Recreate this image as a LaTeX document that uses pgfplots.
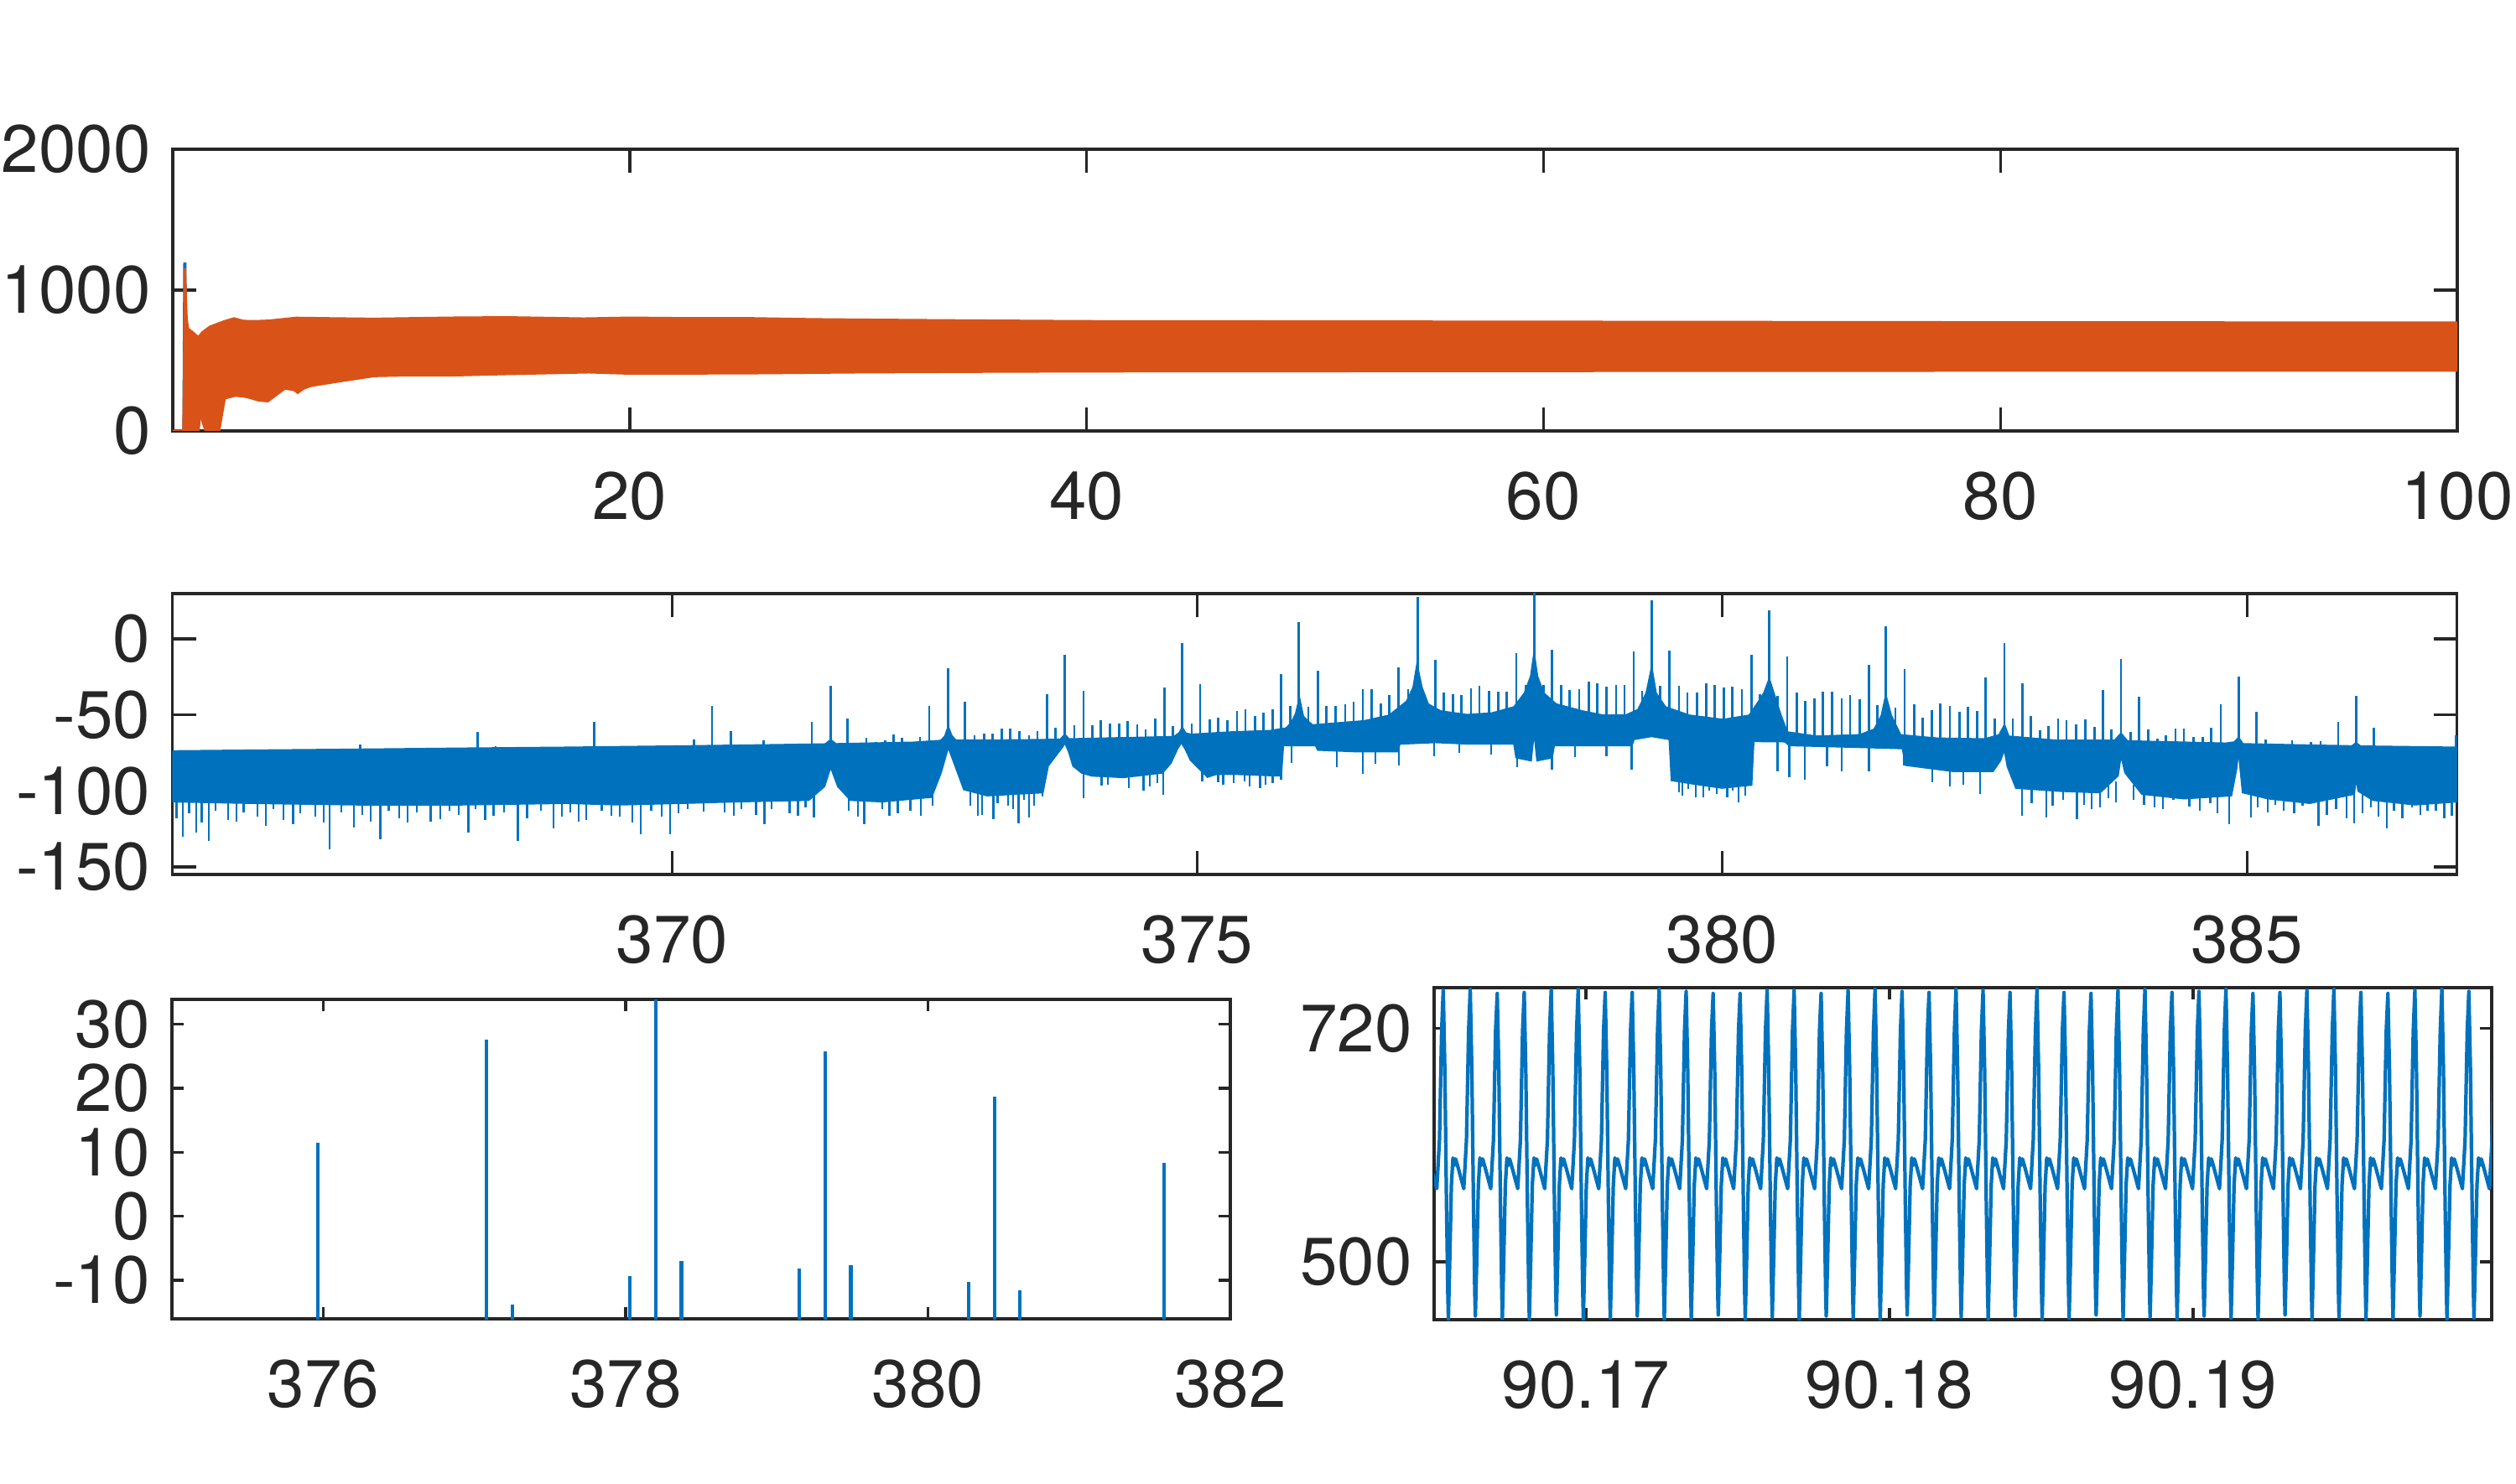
\documentclass[border=0pt]{standalone}
\usepackage{fontspec}
\setmainfont{TeX Gyre Heros}
\usepackage{pgfplots}
\pgfplotsset{compat=1.18}
\definecolor{matblue}{rgb}{0,0.447,0.741}
\definecolor{matorange}{rgb}{0.85,0.325,0.098}
\definecolor{axgray}{rgb}{0.15,0.15,0.15}
\pgfplotsset{
  mystyle/.style={
    scale only axis,
    anchor=south west,
    axis line style={axgray, line width=0.45pt},
    tick style={axgray, line width=0.45pt},
    tick align=inside,
    xtick pos=both, ytick pos=both,
    xticklabel pos=lower, yticklabel pos=left,
    tick label style={font=\fontsize{10.4}{12}\selectfont, text=axgray},
    xticklabel style={anchor=north, inner sep=0pt, yshift=-6.1pt},
    yticklabel style={anchor=east, inner sep=0pt, xshift=-3.2pt},
    minor tick num=0,
  }
}
\begin{document}
\begin{tikzpicture}
\path[use as bounding box] (0pt,0pt) rectangle (390pt,229.97pt);

% ---------------- top axis ----------------
\begin{axis}[mystyle, at={(26.78pt,163.15pt)}, width=354.12pt, height=43.68pt,
  xmin=0, xmax=100, ymin=0, ymax=2000,
  xtick={20,40,60,80,100}, xticklabels={20,40,60,80,100},
  ytick={0,1000,2000}, yticklabels={0,1000,2000},
  major tick length=3.64pt]
\addplot[matblue, line width=0.5pt] coordinates {(0.49,0) (0.53,1195) (0.57,0)};
\addplot[matorange, fill=matorange, line width=0.4pt] coordinates {
(0,0) (0.47,0) (0.50,400) (0.53,1155) (0.56,980) (0.60,800) (0.66,725) (0.72,718) (0.88,698) (1.12,663) (1.29,698) (1.62,738) (1.94,758) (2.27,778) (2.68,798) (3.09,780) (3.58,778) (4.23,782) (5.39,802) (7.2,798) (8.85,795) (10.0,798) (12.1,803) (14.6,806) (18.0,797) (20,803) (22,800) (25,800) (28,792) (30,789) (35,783) (40,778) (50,776) (60,774) (70,772) (80,770) (90,769) (100,768)
(100,430) (90,430) (80,429) (60,427) (40,424) (35,421) (30,417) (25,410) (20,408) (18.2,417) (14.6,405) (12.1,395) (9.98,395) (8.83,391) (7.2,351) (6.05,321) (5.72,302) (5.47,272) (5.31,292) (4.9,302) (4.57,262) (4.16,212) (3.75,218) (3.25,242) (2.76,252) (2.27,232) (2.15,120) (2.02,0) (1.45,0) (1.32,60) (1.22,150) (1.12,0) (0.56,0) (0,0)};
\end{axis}

% ---------------- middle axis ----------------
\begin{axis}[mystyle, at={(26.715pt,94.38pt)}, width=354.13pt, height=43.55pt,
  xmin=365.24, xmax=387.0, ymin=-155, ymax=29.8,
  xtick={370,375,380,385}, xticklabels={370,375,380,385},
  ytick={-150,-100,-50,0}, yticklabels={-150,-100,-50,0},
  major tick length=3.64pt]
% dense band
\addplot[matblue, fill=matblue, line width=0.3pt] coordinates {
(365.24,-73.9) (366.00,-73.4) (367.00,-72.8) (368.00,-72.1) (369.00,-71.5) (370.13,-70.6) (371.00,-69.8) (371.46,-69.3) (371.51,-66.5) (371.56,-69.2) (372.30,-68.2) (372.56,-67.0) (372.60,-64.0) (372.63,-58.0) (372.66,-63.5) (372.70,-66.8) (373.00,-66.8) (373.50,-66.5) (373.70,-66.2) (373.74,-63.0) (373.78,-66.0) (374.30,-65.2) (374.78,-64.5) (374.83,-62.0) (374.86,-58.5) (374.89,-62.0) (374.94,-63.0) (375.30,-61.5) (375.70,-60.5) (375.85,-58.8) (375.90,-55.0) (375.94,-49.5) (375.975,-39.4) (376.01,-51.0) (376.06,-54.5) (376.10,-56.8) (376.26,-55.9) (376.59,-54.1) (376.83,-50.4) (376.997,-41.2) (377.06,-32.0) (377.095,-17.3) (377.14,-32.0) (377.20,-43.0) (377.32,-47.6) (377.57,-50.0) (377.81,-48.9) (378.02,-44.9) (378.12,-35.7) (378.18,-24.6) (378.21,-9.9) (378.24,-24.6) (378.30,-35.7) (378.42,-43.0) (378.67,-47.6) (378.87,-50.4) (379.08,-50.4) (379.20,-46.7) (379.28,-35.7) (379.33,-19.1) (379.37,-35.7) (379.46,-44.9) (379.69,-50.4) (380.01,-53.2) (380.26,-50.4) (380.35,-41.2) (380.40,-35.7) (380.45,-26.5) (380.50,-37.5) (380.56,-50.4) (380.62,-61.4) (380.90,-64.2) (381.31,-63.3) (381.45,-59.6) (381.52,-50.4) (381.56,-37.5) (381.61,-50.4) (381.70,-63.3) (382.05,-65.5) (382.50,-66.0) (382.64,-63.3) (382.69,-56.8) (382.73,-64.2) (383.19,-66.9) (383.74,-66.9) (383.80,-62.3) (383.86,-67.3) (384.80,-68.8) (384.88,-68.0) (384.92,-65.1) (384.96,-69.2) (386.00,-70.6) (386.04,-68.5) (386.08,-70.7) (387.00,-71.5)
(387.00,-107) (386.60,-109) (386.20,-106) (386.06,-100) (386.04,-90) (386.02,-102) (385.60,-108) (385.20,-105) (384.96,-101) (384.93,-80) (384.92,-71) (384.90,-85) (384.85,-103) (384.40,-105) (384.00,-102) (383.84,-88) (383.80,-76) (383.77,-90) (383.60,-101) (383.20,-100) (382.80,-98) (382.72,-84) (382.69,-72.5) (382.65,-80) (382.58,-87) (382.20,-87) (381.75,-83) (381.72,-72) (381.20,-71) (380.64,-70) (380.60,-67.5) (380.30,-67.3) (380.28,-96) (380.00,-98) (379.70,-95) (379.52,-93) (379.50,-66) (379.33,-64) (379.16,-66) (379.14,-70) (378.80,-70) (378.40,-70) (378.38,-78) (378.24,-80) (378.21,-60) (378.18,-80) (378.04,-78) (378.02,-69) (377.60,-69) (377.27,-68) (376.93,-69) (376.91,-74) (376.50,-74) (376.15,-73) (376.13,-70) (375.98,-70) (375.82,-70) (375.80,-90) (375.40,-89) (375.18,-89) (375.10,-90.8) (375.02,-85.3) (374.94,-79.8) (374.89,-72.5) (374.85,-67.9) (374.81,-72.5) (374.75,-81.6) (374.67,-88) (374.30,-91) (374.00,-90) (373.90,-88) (373.82,-83.5) (373.78,-74.3) (373.74,-67.9) (373.72,-70.8) (373.66,-76.2) (373.58,-83.5) (373.53,-101) (373.00,-103) (372.78,-99) (372.70,-84) (372.63,-71) (372.56,-88) (372.47,-104) (372.00,-107) (371.70,-106) (371.58,-97) (371.51,-84) (371.45,-97) (371.30,-106) (370.60,-107) (370.10,-108) (369.50,-109) (369.00,-108) (368.00,-109) (367.00,-109) (366.00,-108) (365.24,-107) (365.24,-73.9)};
% downward needles
\addplot[matblue, line width=0.3pt, unbounded coords=jump] coordinates {
(365.28,-100)(365.28,-118)(365.28,nan) (365.34,-100)(365.34,-130.3)(365.34,nan) (365.40,-100)(365.40,-115)(365.40,nan) (365.47,-100)(365.47,-127.6)(365.47,nan) (365.52,-100)(365.52,-121)(365.52,nan) (365.59,-100)(365.59,-132.7)(365.59,nan) (365.65,-100)(365.65,-113)(365.65,nan) (365.77,-100)(365.77,-119)(365.77,nan) (365.85,-100)(365.85,-120.2)(365.85,nan) (365.92,-100)(365.92,-114)(365.92,nan) (366.05,-100)(366.05,-117)(366.05,nan) (366.13,-100)(366.13,-123)(366.13,nan) (366.20,-100)(366.20,-112)(366.20,nan) (366.30,-100)(366.30,-119)(366.30,nan) (366.39,-100)(366.39,-122)(366.39,nan) (366.46,-100)(366.46,-115)(366.46,nan) (366.60,-100)(366.60,-117)(366.60,nan) (366.68,-100)(366.68,-121)(366.68,nan) (366.74,-100)(366.74,-138.6)(366.74,nan) (366.85,-100)(366.85,-114)(366.85,nan) (366.97,-100)(366.97,-123.9)(366.97,nan) (367.05,-100)(367.05,-116)(367.05,nan) (367.13,-100)(367.13,-120)(367.13,nan) (367.22,-100)(367.22,-131.6)(367.22,nan) (367.30,-100)(367.30,-113)(367.30,nan) (367.40,-100)(367.40,-118)(367.40,nan) (367.48,-100)(367.48,-121)(367.48,nan) (367.57,-100)(367.57,-114)(367.57,nan) (367.70,-100)(367.70,-120)(367.70,nan) (367.79,-100)(367.79,-118.4)(367.79,nan) (367.88,-100)(367.88,-113)(367.88,nan) (367.97,-100)(367.97,-116)(367.97,nan) (368.06,-100)(368.06,-127.6)(368.06,nan) (368.13,-100)(368.13,-112)(368.13,nan) (368.22,-100)(368.22,-119)(368.22,nan) (368.30,-100)(368.30,-116.5)(368.30,nan) (368.40,-100)(368.40,-114)(368.40,nan) (368.53,-100)(368.53,-132.7)(368.53,nan) (368.62,-100)(368.62,-118)(368.62,nan) (368.75,-100)(368.75,-113)(368.75,nan) (368.87,-100)(368.87,-124.8)(368.87,nan) (368.95,-100)(368.95,-117)(368.95,nan) (369.03,-100)(369.03,-114)(369.03,nan) (369.11,-100)(369.11,-120.2)(369.11,nan) (369.18,-100)(369.18,-119)(369.18,nan) (369.33,-100)(369.33,-113)(369.33,nan) (369.42,-100)(369.42,-116.5)(369.42,nan) (369.50,-100)(369.50,-117)(369.50,nan) (369.62,-100)(369.62,-121)(369.62,nan) (369.70,-100)(369.70,-128.5)(369.70,nan) (369.80,-100)(369.80,-113)(369.80,nan) (369.90,-100)(369.90,-117)(369.90,nan) (369.98,-100)(369.98,-128.5)(369.98,nan) (370.06,-100)(370.06,-115)(370.06,nan) (370.15,-100)(370.15,-112)(370.15,nan) (370.30,-100)(370.30,-113.8)(370.30,nan) (370.50,-98)(370.50,-114)(370.50,nan) (370.59,-98)(370.59,-116.5)(370.59,nan) (370.66,-98)(370.66,-112)(370.66,nan) (370.80,-98)(370.80,-116)(370.80,nan) (370.88,-98)(370.88,-122)(370.88,nan) (370.95,-98)(370.95,-112)(370.95,nan) (371.12,-98)(371.12,-115)(371.12,nan) (371.20,-98)(371.20,-116.5)(371.20,nan) (371.27,-98)(371.27,-111)(371.27,nan) (371.35,-98)(371.35,-117.4)(371.35,nan) (371.68,-98)(371.68,-113)(371.68,nan) (371.77,-98)(371.77,-117)(371.77,nan) (371.83,-98)(371.83,-122)(371.83,nan) (372.00,-98)(372.00,-112)(372.00,nan) (372.07,-98)(372.07,-116.5)(372.07,nan) (372.15,-98)(372.15,-115)(372.15,nan) (372.27,-98)(372.27,-113)(372.27,nan) (372.37,-98)(372.37,-116.5)(372.37,nan) (372.48,-98)(372.48,-110)(372.48,nan) (372.84,-95)(372.84,-110)(372.84,nan) (372.91,-95)(372.91,-116.5)(372.91,nan) (372.95,-95)(372.95,-115.6)(372.95,nan) (373.06,-95)(373.06,-118.4)(373.06,nan) (373.10,-95)(373.10,-108)(373.10,nan) (373.20,-95)(373.20,-110)(373.20,nan) (373.25,-95)(373.25,-112)(373.25,nan) (373.30,-95)(373.30,-121.2)(373.30,nan) (373.35,-95)(373.35,-106)(373.35,nan) (373.40,-95)(373.40,-117.4)(373.40,nan) (373.45,-95)(373.45,-110)(373.45,nan) (373.53,-95)(373.53,-103.9)(373.53,nan)
(373.92,-86)(373.92,-104.6)(373.92,nan) (374.09,-86)(374.09,-96.3)(374.09,nan) (374.15,-86)(374.15,-96)(374.15,nan) (374.35,-86)(374.35,-98)(374.35,nan) (374.49,-86)(374.49,-100)(374.49,nan) (374.55,-86)(374.55,-97)(374.55,nan) (374.62,-86)(374.62,-95)(374.62,nan) (374.68,-86)(374.68,-102.8)(374.68,nan) (375.05,-86)(375.05,-94)(375.05,nan) (375.20,-86)(375.20,-94.5)(375.20,nan) (375.25,-86)(375.25,-96)(375.25,nan) (375.35,-86)(375.35,-95)(375.35,nan) (375.45,-86)(375.45,-94)(375.45,nan) (375.50,-86)(375.50,-97)(375.50,nan) (375.60,-86)(375.60,-98)(375.60,nan) (375.65,-86)(375.65,-96)(375.65,nan) (375.72,-86)(375.72,-95)(375.72,nan)
(375.80,-68)(375.80,-92.6)(375.80,nan) (375.90,-68)(375.90,-81.6)(375.90,nan) (376.33,-70)(376.33,-84.4)(376.33,nan) (376.58,-70)(376.58,-89)(376.58,nan) (376.70,-70)(376.70,-82)(376.70,nan) (376.92,-66)(376.92,-83.5)(376.92,nan) (377.26,-66)(377.26,-77.1)(377.26,nan) (377.50,-66)(377.50,-75)(377.50,nan) (377.80,-66)(377.80,-76)(377.80,nan) (378.05,-66)(378.05,-84.4)(378.05,nan) (378.38,-66)(378.38,-86.3)(378.38,nan) (378.60,-66)(378.60,-78)(378.60,nan) (378.90,-66)(378.90,-77)(378.90,nan) (379.14,-66)(379.14,-86.3)(379.14,nan)
(379.59,-88)(379.59,-100.8)(379.59,nan) (379.62,-88)(379.62,-103)(379.62,nan) (379.68,-88)(379.68,-99)(379.68,nan) (379.75,-88)(379.75,-104)(379.75,nan) (379.82,-88)(379.82,-104)(379.82,nan) (379.88,-88)(379.88,-100)(379.88,nan) (379.95,-88)(379.95,-102)(379.95,nan) (380.05,-88)(380.05,-104)(380.05,nan) (380.10,-88)(380.10,-100)(380.10,nan) (380.16,-88)(380.16,-107.4)(380.16,nan) (380.22,-88)(380.22,-103)(380.22,nan)
(380.53,-65)(380.53,-87.2)(380.53,nan) (380.64,-68)(380.64,-90.8)(380.64,nan) (380.79,-68)(380.79,-92.6)(380.79,nan) (381.00,-68)(381.00,-84)(381.00,nan) (381.14,-68)(381.14,-87.2)(381.14,nan) (381.40,-68)(381.40,-87.2)(381.40,nan) (381.73,-68)(381.73,-83.5)(381.73,nan) (382.00,-82)(382.00,-94.5)(382.00,nan) (382.17,-82)(382.17,-97.3)(382.17,nan) (382.30,-82)(382.30,-96)(382.30,nan) (382.46,-82)(382.46,-101.9)(382.46,nan)
(382.86,-94)(382.86,-116.5)(382.86,nan) (382.95,-94)(382.95,-108)(382.95,nan) (383.09,-94)(383.09,-117.4)(383.09,nan) (383.15,-94)(383.15,-110)(383.15,nan) (383.25,-94)(383.25,-106)(383.25,nan) (383.38,-94)(383.38,-118.4)(383.38,nan) (383.45,-94)(383.45,-109)(383.45,nan) (383.52,-94)(383.52,-112)(383.52,nan) (383.60,-94)(383.60,-111.1)(383.60,nan) (383.68,-94)(383.68,-105)(383.68,nan) (383.75,-94)(383.75,-107.4)(383.75,nan) (383.92,-96)(383.92,-106)(383.92,nan) (384.02,-96)(384.02,-109)(384.02,nan) (384.12,-96)(384.12,-111.1)(384.12,nan) (384.20,-96)(384.20,-112)(384.20,nan) (384.30,-96)(384.30,-106)(384.30,nan) (384.45,-96)(384.45,-110.2)(384.45,nan) (384.55,-96)(384.55,-113)(384.55,nan) (384.65,-96)(384.65,-108)(384.65,nan) (384.72,-96)(384.72,-115)(384.72,nan) (384.83,-96)(384.83,-122.1)(384.83,nan) (385.04,-98)(385.04,-117.4)(385.04,nan) (385.10,-98)(385.10,-111)(385.10,nan) (385.20,-98)(385.20,-114)(385.20,nan) (385.27,-98)(385.27,-109)(385.27,nan) (385.35,-98)(385.35,-112.9)(385.35,nan) (385.45,-98)(385.45,-115)(385.45,nan) (385.53,-98)(385.53,-110)(385.53,nan) (385.68,-98)(385.68,-123)(385.68,nan) (385.76,-98)(385.76,-116)(385.76,nan) (385.85,-98)(385.85,-112)(385.85,nan) (385.95,-98)(385.95,-118)(385.95,nan) (386.02,-98)(386.02,-121.2)(386.02,nan) (386.10,-98)(386.10,-115)(386.10,nan) (386.18,-98)(386.18,-111)(386.18,nan) (386.25,-98)(386.25,-117)(386.25,nan) (386.33,-98)(386.33,-124.8)(386.33,nan) (386.40,-98)(386.40,-113)(386.40,nan) (386.48,-98)(386.48,-118)(386.48,nan) (386.57,-98)(386.57,-111)(386.57,nan) (386.65,-98)(386.65,-116)(386.65,nan) (386.72,-98)(386.72,-112.9)(386.72,nan) (386.80,-98)(386.80,-113)(386.80,nan) (386.88,-98)(386.88,-118)(386.88,nan) (386.95,-98)(386.95,-116.5)(386.95,nan)};
% upward spikes
\addplot[matblue, line width=0.35pt, unbounded coords=jump] coordinates {
(367.03,-80)(367.03,-69.7)(367.03,nan) (368.15,-80)(368.15,-61.0)(368.15,nan) (368.32,-80)(368.32,-70.7)(368.32,nan) (369.26,-80)(369.26,-54.6)(369.26,nan)
(370.21,-76)(370.21,-66.2)(370.21,nan) (370.38,-76)(370.38,-44.3)(370.38,nan) (370.56,-76)(370.56,-60.8)(370.56,nan) (370.87,-76)(370.87,-67.0)(370.87,nan) (371.33,-76)(371.33,-54.6)(371.33,nan) (371.51,-76)(371.51,-31.1)(371.51,nan) (371.67,-76)(371.67,-52.2)(371.67,nan) (371.85,-76)(371.85,-65.1)(371.85,nan) (371.94,-76)(371.94,-67.9)(371.94,nan) (372.03,-76)(372.03,-67.0)(372.03,nan) (372.11,-76)(372.11,-62.9)(372.11,nan) (372.19,-76)(372.19,-65.1)(372.19,nan) (372.36,-76)(372.36,-64.7)(372.36,nan) (372.45,-76)(372.45,-43.9)(372.45,nan) (372.63,-70)(372.63,-19.1)(372.63,nan) (372.79,-76)(372.79,-41.2)(372.79,nan) (372.88,-76)(372.88,-63.2)(372.88,nan) (372.97,-76)(372.97,-62.3)(372.97,nan)
(373.05,-70)(373.05,-62.3)(373.05,nan) (373.14,-70)(373.14,-59.2)(373.14,nan) (373.22,-70)(373.22,-59.0)(373.22,nan) (373.31,-70)(373.31,-60.8)(373.31,nan) (373.40,-70)(373.40,-63.6)(373.40,nan) (373.48,-70)(373.48,-60.5)(373.48,nan) (373.57,-70)(373.57,-36.4)(373.57,nan) (373.65,-70)(373.65,-58.6)(373.65,nan) (373.74,-66)(373.74,-10.5)(373.74,nan) (373.83,-70)(373.83,-56.8)(373.83,nan) (373.92,-70)(373.92,-34.4)(373.92,nan) (374.00,-70)(374.00,-56.8)(374.00,nan) (374.08,-70)(374.08,-53.7)(374.08,nan) (374.17,-70)(374.17,-55.9)(374.17,nan) (374.26,-70)(374.26,-55.5)(374.26,nan) (374.34,-70)(374.34,-54.1)(374.34,nan) (374.43,-70)(374.43,-56.3)(374.43,nan) (374.51,-70)(374.51,-59.6)(374.51,nan) (374.60,-70)(374.60,-52.6)(374.60,nan) (374.69,-70)(374.69,-32.0)(374.69,nan) (374.77,-70)(374.77,-57.4)(374.77,nan) (374.86,-66)(374.86,-2.9)(374.86,nan) (374.95,-70)(374.95,-55.9)(374.95,nan) (375.03,-70)(375.03,-29.6)(375.03,nan) (375.12,-70)(375.12,-53.2)(375.12,nan) (375.20,-70)(375.20,-51.8)(375.20,nan) (375.29,-70)(375.29,-53.5)(375.29,nan) (375.38,-70)(375.38,-47.6)(375.38,nan) (375.46,-70)(375.46,-46.3)(375.46,nan) (375.55,-70)(375.55,-50.9)(375.55,nan) (375.63,-70)(375.63,-48.6)(375.63,nan) (375.72,-70)(375.72,-46.3)(375.72,nan)
(375.80,-64)(375.80,-23.2)(375.80,nan) (375.89,-64)(375.89,-44.3)(375.89,nan) (375.97,-64)(375.97,11.2)(375.97,nan) (376.06,-64)(376.06,-44.5)(376.06,nan) (376.15,-64)(376.15,-21.0)(376.15,nan) (376.23,-64)(376.23,-43.9)(376.23,nan) (376.32,-64)(376.32,-43.9)(376.32,nan) (376.41,-64)(376.41,-43.0)(376.41,nan) (376.49,-64)(376.49,-41.5)(376.49,nan) (376.58,-64)(376.58,-32.9)(376.58,nan) (376.66,-64)(376.66,-32.9)(376.66,nan) (376.75,-64)(376.75,-42.4)(376.75,nan) (376.83,-64)(376.83,-36.9)(376.83,nan) (376.92,-64)(376.92,-18.6)(376.92,nan) (377.01,-64)(377.01,-32.9)(377.01,nan) (377.10,-64)(377.10,27.4)(377.10,nan) (377.27,-64)(377.27,-14.0)(377.27,nan) (377.35,-64)(377.35,-35.1)(377.35,nan) (377.44,-64)(377.44,-36.4)(377.44,nan) (377.52,-64)(377.52,-37.1)(377.52,nan) (377.61,-64)(377.61,-32.4)(377.61,nan) (377.69,-64)(377.69,-30.7)(377.69,nan) (377.78,-64)(377.78,-34.2)(377.78,nan) (377.87,-64)(377.87,-34.7)(377.87,nan) (377.95,-64)(377.95,-34.7)(377.95,nan) (378.04,-64)(378.04,-9.6)(378.04,nan) (378.13,-64)(378.13,-30.2)(378.13,nan) (378.21,-64)(378.21,35)(378.21,nan) (378.30,-64)(378.30,-30.5)(378.30,nan) (378.38,-64)(378.38,-7.2)(378.38,nan) (378.47,-64)(378.47,-30.2)(378.47,nan) (378.55,-64)(378.55,-33.8)(378.55,nan) (378.64,-64)(378.64,-33.3)(378.64,nan) (378.73,-64)(378.73,-28.3)(378.73,nan) (378.81,-64)(378.81,-29.3)(378.81,nan) (378.90,-64)(378.90,-31.6)(378.90,nan) (378.99,-64)(378.99,-30.5)(378.99,nan) (379.07,-64)(379.07,-30.2)(379.07,nan) (379.16,-64)(379.16,-8.4)(379.16,nan) (379.24,-64)(379.24,-34.2)(379.24,nan) (379.33,-64)(379.33,25.6)(379.33,nan) (379.41,-64)(379.41,-31.1)(379.41,nan) (379.50,-64)(379.50,-7.7)(379.50,nan) (379.59,-64)(379.59,-31.1)(379.59,nan) (379.67,-64)(379.67,-35.1)(379.67,nan) (379.76,-64)(379.76,-35.3)(379.76,nan) (379.85,-64)(379.85,-29.4)(379.85,nan) (379.93,-64)(379.93,-30.2)(379.93,nan) (380.02,-64)(380.02,-32.0)(380.02,nan) (380.10,-64)(380.10,-31.6)(380.10,nan) (380.19,-64)(380.19,-32.9)(380.19,nan) (380.28,-64)(380.28,-10.3)(380.28,nan)
(380.36,-66)(380.36,-36.3)(380.36,nan) (380.45,-66)(380.45,18.6)(380.45,nan) (380.53,-66)(380.53,-37.5)(380.53,nan) (380.62,-66)(380.62,-11.8)(380.62,nan) (380.71,-66)(380.71,-35.1)(380.71,nan) (380.79,-66)(380.79,-40.8)(380.79,nan) (380.88,-66)(380.88,-39.4)(380.88,nan) (380.96,-66)(380.96,-34.7)(380.96,nan) (381.05,-66)(381.05,-34.7)(381.05,nan) (381.14,-66)(381.14,-39.4)(381.14,nan) (381.22,-66)(381.22,-36.9)(381.22,nan) (381.31,-66)(381.31,-39.7)(381.31,nan) (381.40,-66)(381.40,-16.9)(381.40,nan) (381.48,-66)(381.48,-43.6)(381.48,nan) (381.56,-66)(381.56,8.1)(381.56,nan) (381.65,-66)(381.65,-45.2)(381.65,nan) (381.74,-66)(381.74,-20.0)(381.74,nan)
(381.83,-69)(381.83,-43.0)(381.83,nan) (381.91,-69)(381.91,-51.8)(381.91,nan) (382.00,-69)(382.00,-47.0)(382.00,nan) (382.08,-69)(382.08,-42.6)(382.08,nan) (382.17,-69)(382.17,-43.9)(382.17,nan) (382.26,-69)(382.26,-48.1)(382.26,nan) (382.34,-69)(382.34,-44.9)(382.34,nan) (382.43,-69)(382.43,-47.6)(382.43,nan) (382.51,-69)(382.51,-25.2)(382.51,nan) (382.60,-69)(382.60,-52.2)(382.60,nan) (382.69,-69)(382.69,-2.5)(382.69,nan) (382.77,-69)(382.77,-52.2)(382.77,nan) (382.86,-69)(382.86,-29.2)(382.86,nan) (382.94,-69)(382.94,-50.9)(382.94,nan) (383.03,-69)(383.03,-59.9)(383.03,nan) (383.11,-69)(383.11,-57.4)(383.11,nan) (383.20,-69)(383.20,-52.2)(383.20,nan) (383.28,-69)(383.28,-53.7)(383.28,nan) (383.37,-69)(383.37,-56.3)(383.37,nan) (383.46,-69)(383.46,-53.2)(383.46,nan) (383.55,-69)(383.55,-57.7)(383.55,nan) (383.63,-69)(383.63,-33.8)(383.63,nan) (383.71,-69)(383.71,-59.6)(383.71,nan)
(383.80,-74)(383.80,-13.2)(383.80,nan) (383.89,-74)(383.89,-61.0)(383.89,nan) (383.97,-74)(383.97,-38.0)(383.97,nan) (384.06,-74)(384.06,-59.6)(384.06,nan) (384.15,-74)(384.15,-65.6)(384.15,nan) (384.23,-74)(384.23,-63.3)(384.23,nan) (384.32,-74)(384.32,-59.2)(384.32,nan) (384.40,-74)(384.40,-59.2)(384.40,nan) (384.49,-74)(384.49,-64.7)(384.49,nan) (384.58,-74)(384.58,-64.3)(384.58,nan) (384.66,-74)(384.66,-58.6)(384.66,nan) (384.75,-74)(384.75,-43.0)(384.75,nan) (384.92,-74)(384.92,-25.0)(384.92,nan) (385.09,-74)(385.09,-48.1)(385.09,nan) (385.18,-74)(385.18,-66.0)(385.18,nan) (385.43,-74)(385.43,-66.9)(385.43,nan) (385.61,-74)(385.61,-67.8)(385.61,nan) (385.70,-74)(385.70,-67.3)(385.70,nan) (385.87,-74)(385.87,-54.6)(385.87,nan) (386.04,-74)(386.04,-37.5)(386.04,nan) (386.21,-74)(386.21,-58.3)(386.21,nan) (386.99,-74)(386.99,-63.3)(386.99,nan)};
\end{axis}

% ---------------- bottom-left axis ----------------
\begin{axis}[mystyle, at={(26.65pt,25.48pt)}, width=164.06pt, height=49.53pt,
  xmin=375, xmax=382, ymin=-16.03, ymax=33.9,
  xtick={376,378,380,382}, xticklabels={376,378,380,382},
  ytick={-10,0,10,20,30}, yticklabels={-10,0,10,20,30},
  major tick length=1.85pt]
\addplot[matblue, line width=0.55pt, unbounded coords=jump] coordinates {
(375.965,-40)(375.965,11.44)(375.965,nan)
(377.08,-40)(377.08,27.6)(377.08,nan)
(377.25,-40)(377.25,-13.8)(377.25,nan)
(378.03,-40)(378.03,-9.39)(378.03,nan)
(378.20,-40)(378.20,36)(378.20,nan)
(378.37,-40)(378.37,-7.03)(378.37,nan)
(379.15,-40)(379.15,-8.2)(379.15,nan)
(379.32,-40)(379.32,25.8)(379.32,nan)
(379.49,-40)(379.49,-7.7)(379.49,nan)
(380.27,-40)(380.27,-10.3)(380.27,nan)
(380.44,-40)(380.44,18.7)(380.44,nan)
(380.61,-40)(380.61,-11.6)(380.61,nan)
(381.56,-40)(381.56,8.4)(381.56,nan)};
\end{axis}

% ---------------- bottom-right axis ----------------
\begin{axis}[mystyle, at={(222.3pt,25.35pt)}, width=163.93pt, height=51.48pt,
  xmin=0, xmax=34.84, ymin=445.5, ymax=758.5,
  xtick={5,15,25}, xticklabels={90.17,90.18,90.19},
  ytick={500,720}, yticklabels={500,720},
  major tick length=1.85pt]
\addplot[matblue, line width=0.55pt, line join=round] table {
x y
-0.180 597
-0.100 589
0.087 569
0.176 615
0.247 718
0.300 756
0.353 680
0.407 555
0.451 470
0.469 446
0.513 500
0.567 572
0.620 598
0.665 591
0.709 597
0.789 589
0.976 569
1.065 615
1.136 718
1.189 757
1.242 680
1.296 555
1.340 470
1.358 449
1.402 500
1.456 572
1.509 598
1.554 591
1.598 597
1.678 589
1.865 569
1.954 615
2.025 718
2.078 753
2.131 680
2.185 555
2.229 470
2.247 447
2.291 500
2.345 572
2.398 598
2.443 591
2.487 597
2.567 589
2.754 569
2.843 615
2.914 718
2.967 754
3.020 680
3.074 555
3.118 470
3.136 446
3.180 500
3.234 572
3.287 598
3.332 591
3.376 597
3.456 589
3.643 569
3.732 615
3.803 718
3.857 756
3.910 680
3.964 555
4.008 470
4.026 450
4.070 500
4.124 572
4.177 598
4.222 591
4.266 597
4.346 589
4.533 569
4.622 615
4.693 718
4.746 757
4.799 680
4.853 555
4.897 470
4.915 446
4.959 500
5.013 572
5.066 598
5.111 591
5.155 597
5.235 589
5.422 569
5.511 615
5.582 718
5.635 754
5.688 680
5.742 555
5.786 470
5.804 447
5.848 500
5.902 572
5.955 598
6.000 591
6.044 597
6.124 589
6.311 569
6.400 615
6.471 718
6.524 754
6.577 680
6.631 555
6.675 470
6.693 449
6.737 500
6.791 572
6.844 598
6.889 591
6.933 597
7.013 589
7.200 569
7.289 615
7.360 718
7.413 757
7.466 680
7.520 555
7.564 470
7.582 446
7.626 500
7.680 572
7.733 598
7.778 591
7.822 597
7.902 589
8.089 569
8.178 615
8.249 718
8.302 755
8.355 680
8.409 555
8.453 470
8.471 447
8.515 500
8.569 572
8.622 598
8.667 591
8.711 597
8.791 589
8.978 569
9.067 615
9.138 718
9.191 753
9.244 680
9.298 555
9.342 470
9.360 450
9.404 500
9.458 572
9.511 598
9.556 591
9.600 597
9.680 589
9.867 569
9.956 615
10.027 718
10.080 753
10.133 680
10.187 555
10.231 470
10.249 446
10.293 500
10.347 572
10.400 598
10.445 591
10.489 597
10.569 589
10.756 569
10.845 615
10.916 718
10.970 756
11.023 680
11.077 555
11.121 470
11.139 448
11.183 500
11.237 572
11.290 598
11.335 591
11.379 597
11.459 589
11.646 569
11.735 615
11.806 718
11.859 756
11.912 680
11.966 555
12.010 470
12.028 446
12.072 500
12.126 572
12.179 598
12.224 591
12.268 597
12.348 589
12.535 569
12.624 615
12.695 718
12.748 753
12.801 680
12.855 555
12.899 470
12.917 449
12.961 500
13.015 572
13.068 598
13.113 591
13.157 597
13.237 589
13.424 569
13.513 615
13.584 718
13.637 756
13.690 680
13.744 555
13.788 470
13.806 447
13.850 500
13.904 572
13.957 598
14.002 591
14.046 597
14.126 589
14.313 569
14.402 615
14.473 718
14.526 757
14.579 680
14.633 555
14.677 470
14.695 446
14.739 500
14.793 572
14.846 598
14.891 591
14.935 597
15.015 589
15.202 569
15.291 615
15.362 718
15.415 755
15.468 680
15.522 555
15.566 470
15.584 450
15.628 500
15.682 572
15.735 598
15.780 591
15.824 597
15.904 589
16.091 569
16.180 615
16.251 718
16.304 754
16.357 680
16.411 555
16.455 470
16.473 446
16.517 500
16.571 572
16.624 598
16.669 591
16.713 597
16.793 589
16.980 569
17.069 615
17.140 718
17.193 757
17.246 680
17.300 555
17.344 470
17.362 448
17.406 500
17.460 572
17.513 598
17.558 591
17.602 597
17.682 589
17.869 569
17.958 615
18.029 718
18.083 756
18.136 680
18.190 555
18.234 470
18.252 446
18.296 500
18.350 572
18.403 598
18.448 591
18.492 597
18.572 589
18.759 569
18.848 615
18.919 718
18.972 754
19.025 680
19.079 555
19.123 470
19.141 449
19.185 500
19.239 572
19.292 598
19.337 591
19.381 597
19.461 589
19.648 569
19.737 615
19.808 718
19.861 757
19.914 680
19.968 555
20.012 470
20.030 446
20.074 500
20.128 572
20.181 598
20.226 591
20.270 597
20.350 589
20.537 569
20.626 615
20.697 718
20.750 754
20.803 680
20.857 555
20.901 470
20.919 447
20.963 500
21.017 572
21.070 598
21.115 591
21.159 597
21.239 589
21.426 569
21.515 615
21.586 718
21.639 753
21.692 680
21.746 555
21.790 470
21.808 450
21.852 500
21.906 572
21.959 598
22.004 591
22.048 597
22.128 589
22.315 569
22.404 615
22.475 718
22.528 756
22.581 680
22.635 555
22.679 470
22.697 446
22.741 500
22.795 572
22.848 598
22.893 591
22.937 597
23.017 589
23.204 569
23.293 615
23.364 718
23.417 757
23.470 680
23.524 555
23.568 470
23.586 448
23.630 500
23.684 572
23.737 598
23.782 591
23.826 597
23.906 589
24.093 569
24.182 615
24.253 718
24.307 754
24.360 680
24.414 555
24.458 470
24.476 446
24.520 500
24.574 572
24.627 598
24.672 591
24.716 597
24.796 589
24.983 569
25.072 615
25.143 718
25.196 755
25.249 680
25.303 555
25.347 470
25.365 449
25.409 500
25.463 572
25.516 598
25.561 591
25.605 597
25.685 589
25.872 569
25.961 615
26.032 718
26.085 757
26.138 680
26.192 555
26.236 470
26.254 447
26.298 500
26.352 572
26.405 598
26.450 591
26.494 597
26.574 589
26.761 569
26.850 615
26.921 718
26.974 753
27.027 680
27.081 555
27.125 470
27.143 446
27.187 500
27.241 572
27.294 598
27.339 591
27.383 597
27.463 589
27.650 569
27.739 615
27.810 718
27.863 754
27.916 680
27.970 555
28.014 470
28.032 450
28.076 500
28.130 572
28.183 598
28.228 591
28.272 597
28.352 589
28.539 569
28.628 615
28.699 718
28.752 756
28.805 680
28.859 555
28.903 470
28.921 446
28.965 500
29.019 572
29.072 598
29.117 591
29.161 597
29.241 589
29.428 569
29.517 615
29.588 718
29.641 757
29.694 680
29.748 555
29.792 470
29.810 448
29.854 500
29.908 572
29.961 598
30.006 591
30.050 597
30.130 589
30.317 569
30.406 615
30.477 718
30.530 754
30.583 680
30.637 555
30.681 470
30.699 446
30.743 500
30.797 572
30.850 598
30.895 591
30.939 597
31.019 589
31.206 569
31.295 615
31.366 718
31.420 753
31.473 680
31.527 555
31.571 470
31.589 447
31.633 500
31.687 572
31.740 598
31.785 591
31.829 597
31.909 589
32.096 569
32.185 615
32.256 718
32.309 756
32.362 680
32.416 555
32.460 470
32.478 449
32.522 500
32.576 572
32.629 598
32.674 591
32.718 597
32.798 589
32.985 569
33.074 615
33.145 718
33.198 757
33.251 680
33.305 555
33.349 470
33.367 446
33.411 500
33.465 572
33.518 598
33.563 591
33.607 597
33.687 589
33.874 569
33.963 615
34.034 718
34.087 755
34.140 680
34.194 555
34.238 470
34.256 447
34.300 500
34.354 572
34.407 598
34.452 591
34.496 597
34.576 589
34.763 569
34.852 615
34.923 718
34.976 755
35.029 680
};
\end{axis}
\end{tikzpicture}
\end{document}
